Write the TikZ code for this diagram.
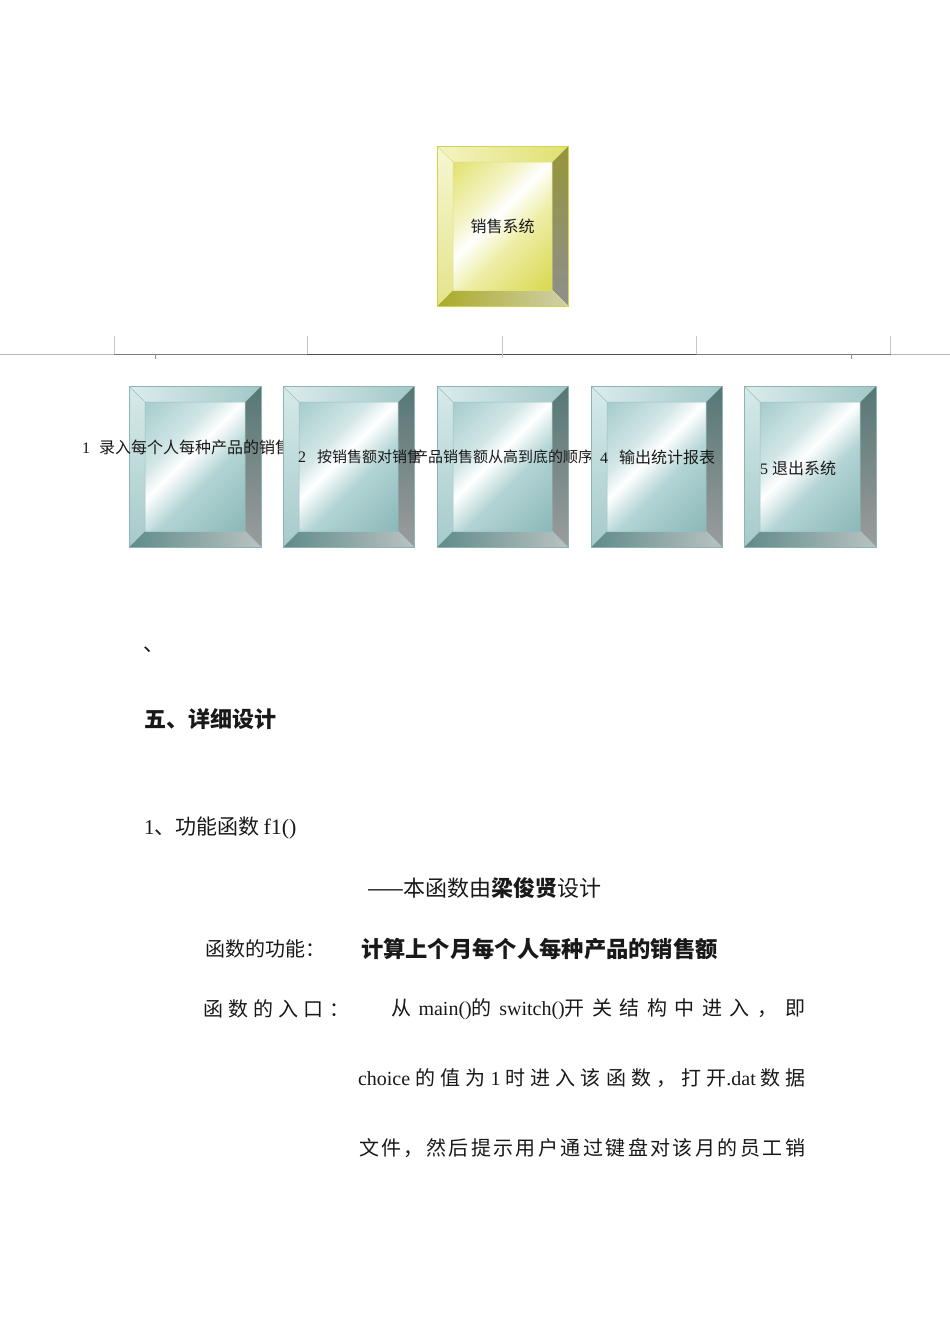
\documentclass[tikz,border=0pt]{standalone}
\usepackage{fontspec}
\setmainfont{Liberation Serif}
\newfontfamily\zh{Noto Sans CJK SC}
\usetikzlibrary{calc}
\newcommand\fz[1]{\fontsize{#1}{#1}\selectfont}
\newcommand\spreadsp{\spaceskip=2pt plus 1fil\relax}
% teal palette
\definecolor{ttopL}{HTML}{DCECEC}\definecolor{ttopR}{HTML}{A2C7C7}
\definecolor{tlftT}{HTML}{D6EAEA}\definecolor{tlftB}{HTML}{A6CACA}
\definecolor{trgtT}{HTML}{557775}\definecolor{trgtB}{HTML}{9C9C9C}
\definecolor{tbotL}{HTML}{5F8B89}\definecolor{tbotR}{HTML}{BAC2C2}
\definecolor{tedge}{HTML}{9CC0C0}\definecolor{tborder}{HTML}{8CB4B4}
\definecolor{tf1}{HTML}{8AB8B8}\definecolor{tf2}{HTML}{B3D4D4}
\definecolor{tf3}{HTML}{D2E6E6}\definecolor{tf4}{HTML}{A6CCCC}
% yellow palette
\definecolor{ytopL}{HTML}{F4F4C4}\definecolor{ytopR}{HTML}{E0E070}
\definecolor{ylftT}{HTML}{F6F6D4}\definecolor{ylftB}{HTML}{E4E48C}
\definecolor{yrgtT}{HTML}{96963A}\definecolor{yrgtB}{HTML}{8E8E8E}
\definecolor{ybotL}{HTML}{AAAA28}\definecolor{ybotR}{HTML}{D0D0AA}
\definecolor{yedge}{HTML}{E0E080}\definecolor{yborder}{HTML}{D4D44C}
\definecolor{yf1}{HTML}{D8D84E}\definecolor{yf2}{HTML}{EEEEA8}
\definecolor{yf3}{HTML}{F4F4C8}\definecolor{yf4}{HTML}{E2E270}
\pgfdeclareverticalshading{tface}{100bp}{color(0bp)=(tf1); color(15bp)=(tf1); color(42bp)=(tf2); color(55bp)=(white); color(64bp)=(tf3); color(85bp)=(tf4); color(100bp)=(tf4)}
\pgfdeclareverticalshading{yface}{100bp}{color(0bp)=(yf1); color(15bp)=(yf1); color(42bp)=(yf2); color(55bp)=(white); color(64bp)=(yf3); color(85bp)=(yf4); color(100bp)=(yf4)}
\newcommand\bevbox[6]{%
 \node[boxnode, minimum width=#4pt, minimum height=#5pt] (#1) at (#2,#3) {};
 \coordinate (#1-a) at ($(#1.north west)+(16,16)$);
 \coordinate (#1-b) at ($(#1.north east)+(-16,16)$);
 \coordinate (#1-c) at ($(#1.south east)+(-16,-16)$);
 \coordinate (#1-d) at ($(#1.south west)+(16,-16)$);
 \shade[left color=#6topL, right color=#6topR] (#1.north west) -- (#1.north east) -- (#1-b) -- (#1-a) -- cycle;
 \shade[top color=#6lftT, bottom color=#6lftB] (#1.north west) -- (#1-a) -- (#1-d) -- (#1.south west) -- cycle;
 \shade[top color=#6rgtT, bottom color=#6rgtB] (#1.north east) -- (#1.south east) -- (#1-c) -- (#1-b) -- cycle;
 \shade[left color=#6botL, right color=#6botR] (#1.south west) -- (#1-d) -- (#1-c) -- (#1.south east) -- cycle;
 \shade[shading=#6face, shading angle=45] (#1-a) rectangle (#1-c);
 \draw[#6edge, line width=0.5pt] (#1-a) rectangle (#1-c) (#1.north west) -- (#1-a) (#1.north east) -- (#1-b) (#1.south east) -- (#1-c) (#1.south west) -- (#1-d);
 \draw[#6border, line width=0.8pt] (#1.north west) rectangle (#1.south east);
}
\begin{document}
\begin{tikzpicture}[x=1pt,y=-1pt,
  boxnode/.style={inner sep=0pt, outer sep=0pt},
  lbl/.style={anchor=west, inner sep=0pt, outer sep=0pt, text=black!90},
  lnlight/.style={draw=black!28, line width=1pt},
  lnmid/.style={draw=black!52, line width=1pt},
  lndark/.style={draw=black!70, line width=1pt},
  lnvert/.style={draw=black!22, line width=0.6pt},
  lntick/.style={draw=black!45, line width=0.6pt}]
\fill[white] (0,0) rectangle (950,1344);
\useasboundingbox (0,0) rectangle (950,1344);
% main box
\bevbox{main}{502.5}{226}{131}{160}{y}
\node[lbl, anchor=center, font=\fz{16}] (mainlbl) at (main.center) {\zh 销售系统};
% connector lines
\foreach \n/\x in {A/114,B/307,C/502,D/696,E/890}{
  \coordinate (top\n) at (\x,336);
  \coordinate (bus\n) at (\x,354);
}
\coordinate (busL) at (0,354);
\coordinate (busR) at (950,354);
\coordinate (busE2) at (891,354);
\draw[lnlight] (busL) -- (busA);
\draw[lnlight] (busE2) -- (busR);
\draw[lnmid] (busA) -- (busB);
\draw[lnmid] (busD) -- (busE2);
\draw[lndark] (busB) -- (busD);
\foreach \n in {A,B,C,D,E}{ \draw[lnvert] (top\n) -- (bus\n); }
\coordinate (tk1a) at (155,354); \coordinate (tk1b) at (155,359);
\coordinate (tk2a) at (851,354); \coordinate (tk2b) at (851,359);
\coordinate (tk3b) at (502,358);
\draw[lntick] (tk1a) -- (tk1b);
\draw[lntick] (tk2a) -- (tk2b);
\draw[lnvert] (busC) -- (tk3b);
% child boxes and labels
\bevbox{b1}{195}{466.5}{132}{161}{t}
\node[lbl, font=\fz{16}] (t1) at (82,447) {1\hspace{9pt}{\zh 录入每个人每种产品的销售}};
\bevbox{b2}{348.5}{466.5}{131}{161}{t}
\node[lbl, font=\fz{15}] (t2) at (298,457) {\fz{16}2\fz{15}\hspace{11pt}{\zh 按销售额对销售}};
\bevbox{b3}{502.5}{466.5}{131}{161}{t}
\node[lbl, font=\fz{15}] (t3) at (413,457) {\zh 产品销售额从高到底的顺序};
\bevbox{b4}{656.5}{466.5}{131}{161}{t}
\node[lbl, font=\fz{16}] (t4) at (600,457) {4\hspace{11pt}{\zh 输出统计报表}};
\bevbox{b5}{810}{466.5}{132}{161}{t}
\node[lbl, font=\fz{16}] (t5) at (760,468) {5\hspace{4pt}{\zh 退出系统}};
% body text
\node[lbl, font=\fz{21}] (c0) at (143,650) {\zh 、};
\node[lbl, font=\fz{22}] (h5) at (144,719) {\zh\bfseries 五、详细设计};
\node[lbl, font=\fz{21}] (s1) at (144,828) {1{\zh 、功能函数}\hspace{4pt}{\fz{22}f1()}};
\node[lbl, font=\fz{22}] (s2) at (367,888) {\zh ——本函数由{\bfseries 梁俊贤}设计};
\node[lbl, font=\fz{20}] (s3a) at (205,949) {\zh 函数的功能：};
\node[lbl, font=\fz{22.3}] (s3b) at (361,949) {\zh\bfseries 计算上个月每个人每种产品的销售额};
\node[lbl, font=\fz{20}] (s4a) at (203,1009) {\makebox[146pt][s]{\spreadsp\zh 函 数 的 入 口 ：}};
\node[lbl, font=\fz{20}] (s4b) at (391,1009) {\makebox[414pt][s]{\spreadsp{\zh 从} main(){\zh 的} switch(){\zh 开 关 结 构 中 进 入 ， 即}}};
\node[lbl, font=\fz{20}] (s5) at (358,1078) {\makebox[448pt][s]{\spreadsp choice {\zh 的 值 为} 1 {\zh 时 进 入 该 函 数 ， 打 开}.dat {\zh 数 据}}};
\node[lbl, font=\fz{20}] (s6) at (359,1148) {\makebox[446pt][s]{\spreadsp\zh 文 件 ， 然 后 提 示 用 户 通 过 键 盘 对 该 月 的 员 工 销}};
\end{tikzpicture}
\end{document}
